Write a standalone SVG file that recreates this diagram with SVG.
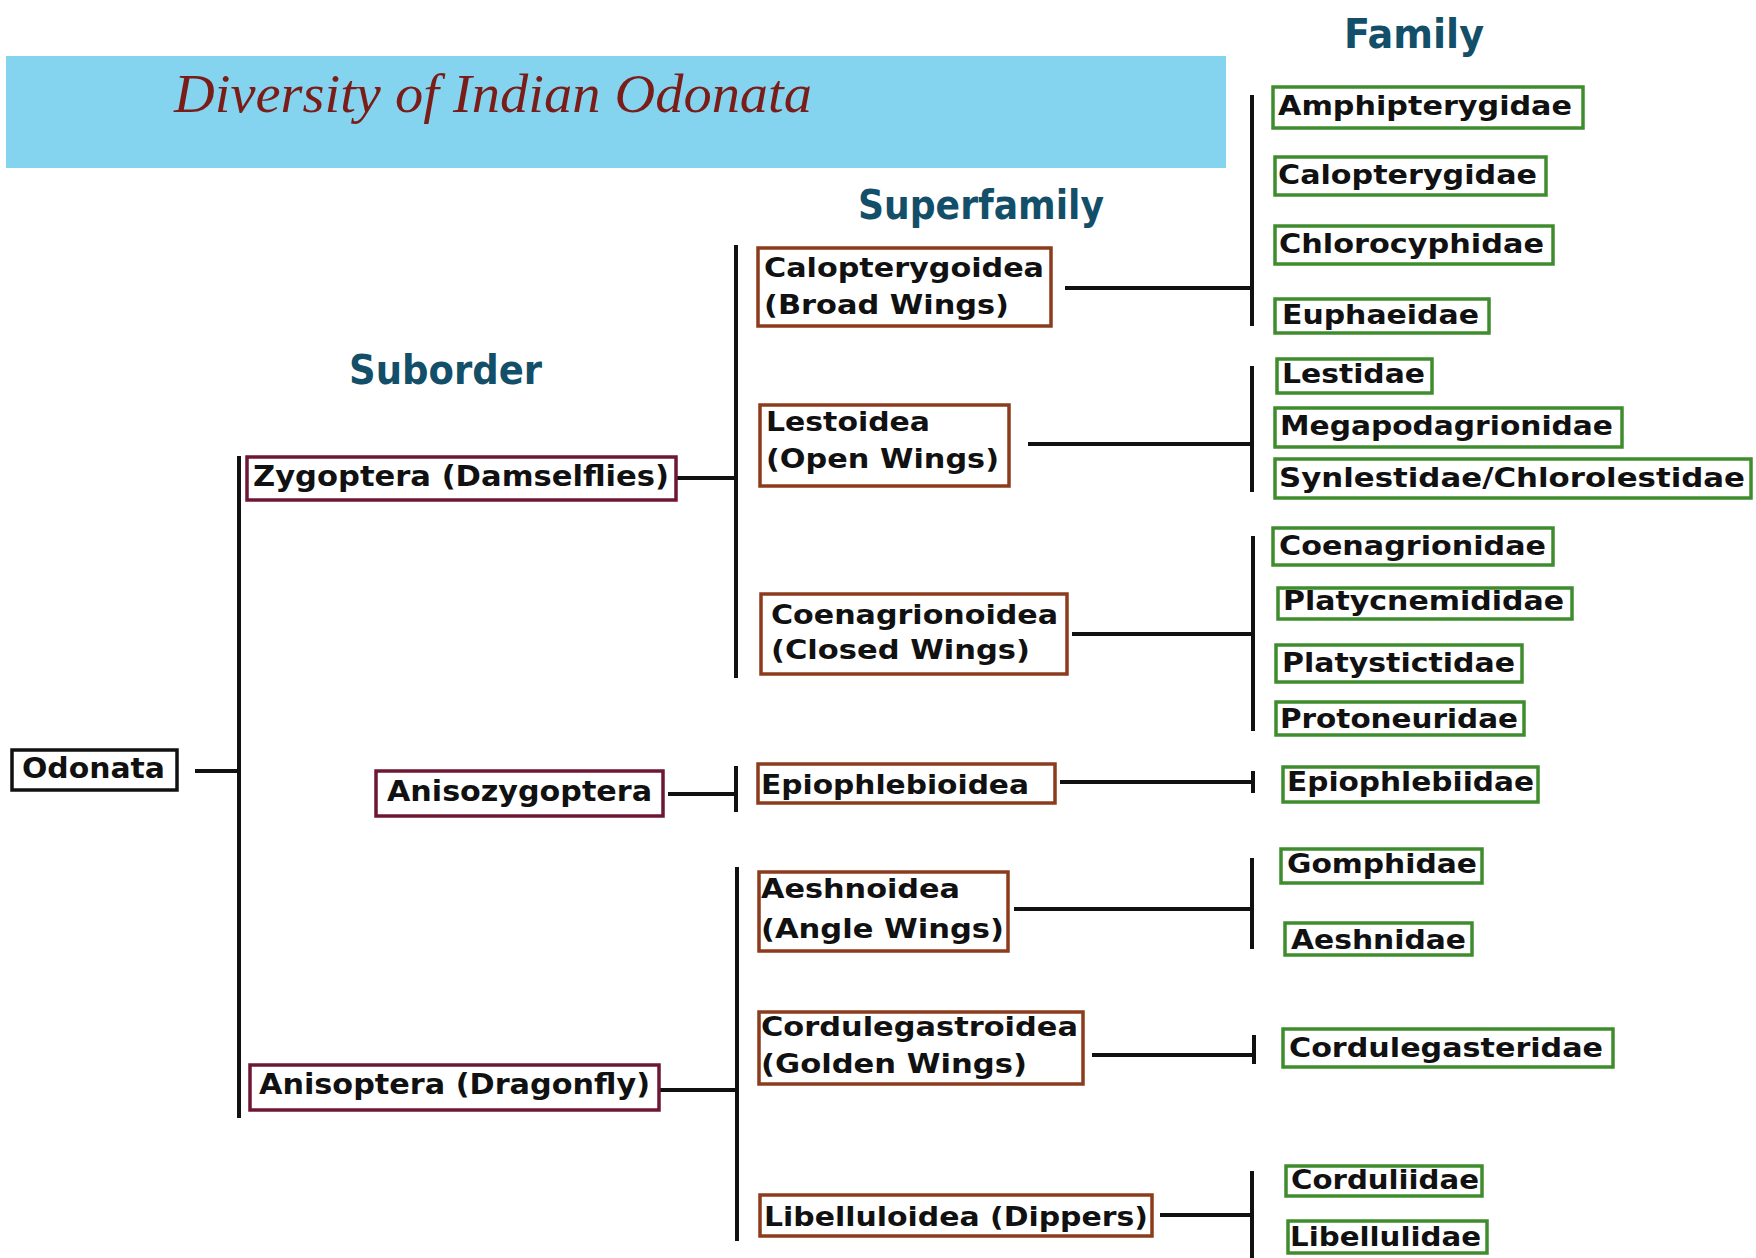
<svg xmlns="http://www.w3.org/2000/svg" width="1756" height="1258" viewBox="0 0 1756 1258">
<style>
.bg{fill:#ffffff}
.banner{fill:#84d4ef}
.title{font-family:"Liberation Serif","DejaVu Serif",serif;font-style:italic;font-size:54px;fill:#7a1d18}
.hdr{font-family:"DejaVu Sans Condensed","DejaVu Sans",sans-serif;font-weight:bold;font-size:40px;fill:#134f69}
.box{fill:#ffffff;stroke-width:3.5}
.root{stroke:#111111}
.sub{stroke:#6e1733}
.sup{stroke:#8c3c1d}
.fam{stroke:#3f8c2e}
.t{font-family:"DejaVu Sans","Verdana",sans-serif;font-weight:bold;font-size:27px;fill:#111111}
.tc{font-family:"DejaVu Sans Condensed","DejaVu Sans",sans-serif;font-weight:bold;font-size:28px;fill:#111111}
.ln{stroke:#111111;stroke-width:4;fill:none}
</style>
<rect class="bg" x="0" y="0" width="1756" height="1258"/>
<g id="banner">
<rect class="banner" x="6" y="56" width="1220" height="112"/>
<text class="title" x="174" y="112" textLength="638" lengthAdjust="spacingAndGlyphs">Diversity of Indian Odonata</text>
</g>
<g id="headers">
<text class="hdr" x="1344" y="48" textLength="140" lengthAdjust="spacingAndGlyphs">Family</text>
<text class="hdr" x="858" y="219" textLength="246" lengthAdjust="spacingAndGlyphs">Superfamily</text>
<text class="hdr" x="349" y="384" textLength="193" lengthAdjust="spacingAndGlyphs">Suborder</text>
</g>
<g id="connectors">
<path class="ln" d="M195 771H239M239 456V1118"/>
<path class="ln" d="M676 478H736M736 245V678"/>
<path class="ln" d="M668 794H736M736 766V812"/>
<path class="ln" d="M659 1090H737M737 867V1241"/>
<path class="ln" d="M1065 288H1252M1252 95V326"/>
<path class="ln" d="M1028 444H1252M1252 366V492"/>
<path class="ln" d="M1072 634H1253M1253 536V731"/>
<path class="ln" d="M1060 782H1253M1253 771V793"/>
<path class="ln" d="M1014 909H1252M1252 858V949"/>
<path class="ln" d="M1092 1055H1254M1254 1035V1064"/>
<path class="ln" d="M1160 1215H1252M1252 1171V1258"/>
</g>
<g id="odonata"><rect class="box root" x="12" y="750" width="165" height="40"/><text class="tc" x="22" y="778" textLength="143" lengthAdjust="spacingAndGlyphs">Odonata</text></g>
<g id="zygoptera"><rect class="box sub" x="247" y="457" width="429" height="43"/><text class="tc" x="253" y="486" textLength="416" lengthAdjust="spacingAndGlyphs">Zygoptera (Damselflies)</text></g>
<g id="anisozygoptera"><rect class="box sub" x="376" y="771" width="287" height="45"/><text class="tc" x="387" y="801" textLength="265" lengthAdjust="spacingAndGlyphs">Anisozygoptera</text></g>
<g id="anisoptera"><rect class="box sub" x="250" y="1065" width="409" height="45"/><text class="tc" x="259" y="1094" textLength="391" lengthAdjust="spacingAndGlyphs">Anisoptera (Dragonfly)</text></g>
<g id="calopterygoidea"><rect class="box sup" x="758" y="248" width="293" height="78"/><text class="t" x="764" y="277" textLength="280" lengthAdjust="spacingAndGlyphs">Calopterygoidea</text><text class="t" x="764" y="314" textLength="245" lengthAdjust="spacingAndGlyphs">(Broad Wings)</text></g>
<g id="lestoidea"><rect class="box sup" x="760" y="405" width="249" height="81"/><text class="t" x="766" y="431" textLength="164" lengthAdjust="spacingAndGlyphs">Lestoidea</text><text class="t" x="766" y="468" textLength="233" lengthAdjust="spacingAndGlyphs">(Open Wings)</text></g>
<g id="coenagrionoidea"><rect class="box sup" x="761" y="594" width="306" height="80"/><text class="t" x="771" y="624" textLength="287" lengthAdjust="spacingAndGlyphs">Coenagrionoidea</text><text class="t" x="771" y="659" textLength="259" lengthAdjust="spacingAndGlyphs">(Closed Wings)</text></g>
<g id="epiophlebioidea"><rect class="box sup" x="758" y="764" width="297" height="39"/><text class="t" x="761" y="794" textLength="268" lengthAdjust="spacingAndGlyphs">Epiophlebioidea</text></g>
<g id="aeshnoidea"><rect class="box sup" x="759" y="872" width="249" height="79"/><text class="t" x="761" y="898" textLength="199" lengthAdjust="spacingAndGlyphs">Aeshnoidea</text><text class="t" x="761" y="938" textLength="243" lengthAdjust="spacingAndGlyphs">(Angle Wings)</text></g>
<g id="cordulegastroidea"><rect class="box sup" x="759" y="1012" width="324" height="72"/><text class="t" x="761" y="1036" textLength="317" lengthAdjust="spacingAndGlyphs">Cordulegastroidea</text><text class="t" x="761" y="1073" textLength="266" lengthAdjust="spacingAndGlyphs">(Golden Wings)</text></g>
<g id="libelluloidea"><rect class="box sup" x="760" y="1195" width="392" height="41"/><text class="t" x="764" y="1226" textLength="384" lengthAdjust="spacingAndGlyphs">Libelluloidea (Dippers)</text></g>
<g id="amphipterygidae"><rect class="box fam" x="1273" y="87" width="310" height="41"/><text class="t" x="1278" y="115" textLength="294" lengthAdjust="spacingAndGlyphs">Amphipterygidae</text></g>
<g id="calopterygidae"><rect class="box fam" x="1275" y="157" width="271" height="38"/><text class="t" x="1278" y="184" textLength="259" lengthAdjust="spacingAndGlyphs">Calopterygidae</text></g>
<g id="chlorocyphidae"><rect class="box fam" x="1275" y="226" width="278" height="38"/><text class="t" x="1279" y="253" textLength="265" lengthAdjust="spacingAndGlyphs">Chlorocyphidae</text></g>
<g id="euphaeidae"><rect class="box fam" x="1275" y="299" width="214" height="34"/><text class="t" x="1282" y="324" textLength="197" lengthAdjust="spacingAndGlyphs">Euphaeidae</text></g>
<g id="lestidae"><rect class="box fam" x="1277" y="359" width="155" height="34"/><text class="t" x="1282" y="383" textLength="143" lengthAdjust="spacingAndGlyphs">Lestidae</text></g>
<g id="megapodagrionidae"><rect class="box fam" x="1275" y="408" width="347" height="39"/><text class="t" x="1280" y="435" textLength="333" lengthAdjust="spacingAndGlyphs">Megapodagrionidae</text></g>
<g id="synlestidae"><rect class="box fam" x="1275" y="459" width="476" height="39"/><text class="t" x="1279" y="487" textLength="466" lengthAdjust="spacingAndGlyphs">Synlestidae/Chlorolestidae</text></g>
<g id="coenagrionidae"><rect class="box fam" x="1273" y="528" width="280" height="37"/><text class="t" x="1279" y="555" textLength="267" lengthAdjust="spacingAndGlyphs">Coenagrionidae</text></g>
<g id="platycnemididae"><rect class="box fam" x="1278" y="588" width="294" height="31"/><text class="t" x="1283" y="610" textLength="281" lengthAdjust="spacingAndGlyphs">Platycnemididae</text></g>
<g id="platystictidae"><rect class="box fam" x="1276" y="645" width="246" height="37"/><text class="t" x="1282" y="672" textLength="233" lengthAdjust="spacingAndGlyphs">Platystictidae</text></g>
<g id="protoneuridae"><rect class="box fam" x="1276" y="702" width="248" height="33"/><text class="t" x="1280" y="728" textLength="238" lengthAdjust="spacingAndGlyphs">Protoneuridae</text></g>
<g id="epiophlebiidae"><rect class="box fam" x="1283" y="767" width="255" height="35"/><text class="t" x="1287" y="791" textLength="247" lengthAdjust="spacingAndGlyphs">Epiophlebiidae</text></g>
<g id="gomphidae"><rect class="box fam" x="1281" y="849" width="201" height="34"/><text class="t" x="1287" y="873" textLength="190" lengthAdjust="spacingAndGlyphs">Gomphidae</text></g>
<g id="aeshnidae"><rect class="box fam" x="1285" y="923" width="187" height="32"/><text class="t" x="1291" y="949" textLength="175" lengthAdjust="spacingAndGlyphs">Aeshnidae</text></g>
<g id="cordulegasteridae"><rect class="box fam" x="1283" y="1029" width="330" height="38"/><text class="t" x="1289" y="1057" textLength="314" lengthAdjust="spacingAndGlyphs">Cordulegasteridae</text></g>
<g id="corduliidae"><rect class="box fam" x="1286" y="1166" width="196" height="30"/><text class="t" x="1291" y="1189" textLength="188" lengthAdjust="spacingAndGlyphs">Corduliidae</text></g>
<g id="libellulidae"><rect class="box fam" x="1288" y="1221" width="199" height="32"/><text class="t" x="1290" y="1246" textLength="191" lengthAdjust="spacingAndGlyphs">Libellulidae</text></g>
</svg>
